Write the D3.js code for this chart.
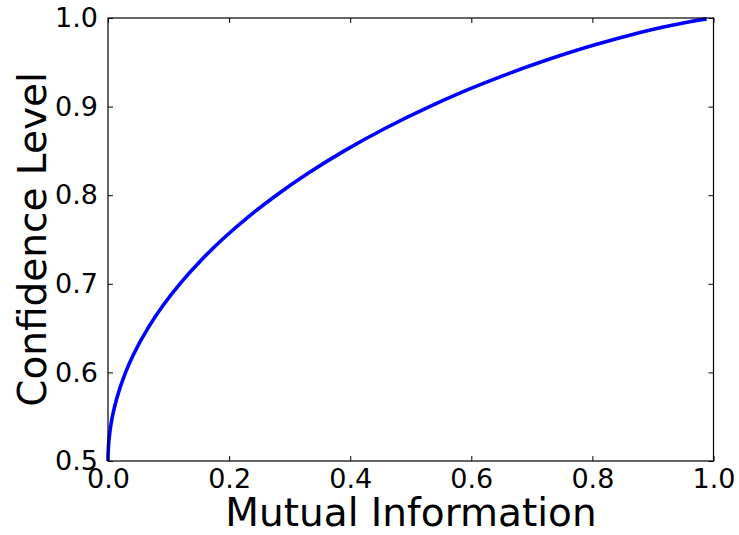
<!DOCTYPE html>
<html>
<head>
<meta charset="utf-8">
<script src="https://cdn.jsdelivr.net/npm/d3@7"></script>
<style>
  body { margin: 0; background: #fff; }
  svg { display: block; font-family: "DejaVu Sans", sans-serif; }
</style>
</head>
<body>
<div id="chart"></div>
<script>
/* Confidence level against mutual information */

// values
const mutualInfo = [0, 0.00007, 0.00029, 0.00115, 0.0026, 0.0046, 0.0072, 0.0142, 0.029, 0.0419,
  0.066, 0.0902, 0.1187, 0.1515, 0.1887, 0.2308, 0.2781, 0.331, 0.3902, 0.4564,
  0.531, 0.6157, 0.7136, 0.8056, 0.8586, 0.9192, 0.9546, 0.9886];
const confidence = [0.5, 0.505, 0.51, 0.52, 0.53, 0.54, 0.55, 0.57, 0.6, 0.62,
  0.65, 0.675, 0.7, 0.725, 0.75, 0.775, 0.8, 0.825, 0.85, 0.875,
  0.9, 0.925, 0.95, 0.97, 0.98, 0.99, 0.995, 0.999];
const xTicks = [0.0, 0.2, 0.4, 0.6, 0.8, 1.0];
const yTicks = [0.5, 0.6, 0.7, 0.8, 0.9, 1.0];

let width = 739,
  height = 535,
  margin = { top: 18, right: 25, bottom: 74, left: 108 };

const svg = d3
  .select("#chart")
  .append("svg")
  .attr("width", width)
  .attr("height", height);

let x = d3
  .scaleLinear()
  .domain([0, 1])
  .range([margin.left, width - margin.right - 0.5]);

let y = d3
  .scaleLinear()
  .domain([0.5, 1])
  .range([height - margin.bottom, margin.top]);

// the curve
const data = mutualInfo.map((d, i) => ({ mi: d, c: confidence[i] }));

let line = d3
  .line()
  .curve(d3.curveMonotoneY)
  .x((d) => x(d.mi))
  .y((d) => y(d.c));

svg
  .append("path")
  .datum(data)
  .attr("fill", "none")
  .attr("stroke", "#0000ff")
  .attr("stroke-width", 3.6)
  .attr("d", line);

// axes, ticks pointing inward on all four sides
const tickLen = 5;

function styleAxis(g) {
  g.select(".domain").remove();
  g.selectAll(".tick line").attr("stroke", "#000").attr("stroke-width", 1);
  g.selectAll(".tick text")
    .attr("fill", "#000")
    .attr("font-size", 27)
    .attr("font-family", "DejaVu Sans, sans-serif");
}

svg
  .append("g")
  .attr("transform", `translate(0,${height - margin.bottom})`)
  .call(
    d3.axisBottom(x).tickValues(xTicks).tickFormat(d3.format(".1f"))
      .tickSizeInner(-tickLen).tickSizeOuter(0).tickPadding(8)
  )
  .call(styleAxis);

svg
  .append("g")
  .attr("transform", `translate(0,${margin.top})`)
  .call(d3.axisTop(x).tickValues(xTicks).tickFormat("").tickSizeInner(-tickLen).tickSizeOuter(0))
  .call(styleAxis);

svg
  .append("g")
  .attr("transform", `translate(${margin.left},0)`)
  .call(
    d3.axisLeft(y).tickValues(yTicks).tickFormat(d3.format(".1f"))
      .tickSizeInner(-tickLen).tickSizeOuter(0).tickPadding(10)
  )
  .call(styleAxis);

svg
  .append("g")
  .attr("transform", `translate(${width - margin.right - 0.5},0)`)
  .call(d3.axisRight(y).tickValues(yTicks).tickFormat("").tickSizeInner(-tickLen).tickSizeOuter(0))
  .call(styleAxis);

// frame
svg
  .append("rect")
  .attr("x", margin.left)
  .attr("y", margin.top)
  .attr("width", width - margin.right - 0.5 - margin.left)
  .attr("height", height - margin.bottom - margin.top)
  .attr("fill", "none")
  .attr("stroke", "#000")
  .attr("stroke-width", 1.2);

// labels
svg
  .append("text")
  .attr("text-anchor", "middle")
  .attr("x", (margin.left + width - margin.right) / 2)
  .attr("y", 526)
  .attr("font-size", 39)
  .text("Mutual Information");

svg
  .append("text")
  .attr("text-anchor", "middle")
  .attr("transform", `translate(46,${(margin.top + height - margin.bottom) / 2}) rotate(-90)`)
  .attr("font-size", 39)
  .text("Confidence Level");
</script>
</body>
</html>
